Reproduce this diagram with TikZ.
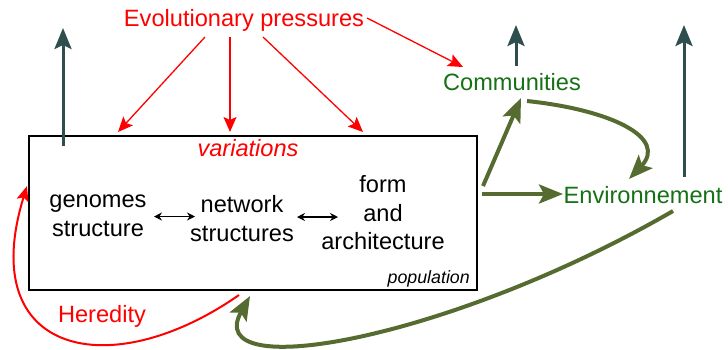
\documentclass[tikz,border=0pt]{standalone}
\usepackage{fontspec}
\setmainfont{Liberation Sans}
\usetikzlibrary{arrows.meta}
\definecolor{evored}{RGB}{255,0,0}
\definecolor{ecogreen}{RGB}{22,112,22}
\definecolor{olivearrow}{RGB}{85,107,47}
\definecolor{slatearrow}{RGB}{47,79,79}
\tikzset{
  lbl/.style={inner sep=0pt, font=\fontsize{23.6}{28.5}\selectfont, align=center},
  pressure/.style={draw=evored, line width=1.3pt, -{Stealth[length=15pt,width=13pt,inset=3pt]}},
  trend/.style={draw=slatearrow, line width=3pt, -{Stealth[length=21pt,width=17pt,inset=4pt]}},
  feedback/.style={draw=olivearrow, line width=4pt, -{Stealth[length=24pt,width=19pt,inset=5pt]}},
  link/.style={draw=black, line width=1.5pt, {Stealth[length=8pt,width=8pt]}-{Stealth[length=8pt,width=8pt]}},
}
\begin{document}
\begin{tikzpicture}[x=1pt,y=-1pt]
\useasboundingbox (0,0) rectangle (728,349);

% population box
\node[draw, line width=2pt, minimum width=448pt, minimum height=154pt, inner sep=0pt] (pop) at (253,213) {};

% labels
\node[lbl, text=evored] (evo) at (244,20) {Evolutionary pressures};
\node[lbl, text=evored, font=\fontsize{23.6}{28.5}\selectfont\itshape] (var) at (248,148.5) {variations};
\node[lbl] (gen) at (98,216) {genomes\\structure};
\node[lbl] (net) at (242,218.5) {network\\structures};
\node[lbl] (form) at (383,213) {form\\and\\architecture};
\node[inner sep=0pt, anchor=base east, font=\fontsize{17.8}{20}\selectfont\itshape] (popl) at (470,283) {population};
\node[lbl, text=ecogreen] (com) at (512,82.5) {Communities};
\node[lbl, text=ecogreen] (env) at (643,195) {Environnement};
\node[lbl, text=evored] (her) at (102,316) {Heredity};

% connector end points
\coordinate (pA) at (118,132);
\coordinate (pB) at (230,132);
\coordinate (pC) at (363,132);
\coordinate (eA) at (205,37);
\coordinate (eB) at (230,37);
\coordinate (eC) at (263,37);
\coordinate (eD) at (367,18);
\coordinate (cIn) at (463,67);
\coordinate (popUp) at (63,146);
\coordinate (popTop) at (63,28);
\coordinate (comUp) at (516,66);
\coordinate (comTop) at (516,25);
\coordinate (envUp) at (684,177);
\coordinate (envTop) at (684,25);
\coordinate (popR1) at (483,186);
\coordinate (comIn) at (521,98);
\coordinate (popR2) at (482,194);
\coordinate (envIn) at (563,194);
\coordinate (comOut) at (527,101);
\coordinate (envTopIn) at (629,179);
\coordinate (envOut) at (673,211);
\coordinate (popBotIn) at (250,296);
\coordinate (popBotOut) at (239,295);
\coordinate (popLeftIn) at (27,186);

% evolutionary pressures
\draw[pressure] (eA) -- (pA);
\draw[pressure] (eB) -- (pB);
\draw[pressure] (eC) -- (pC);
\draw[pressure] (eD) -- (cIn);

% upward trends
\draw[trend] (popUp) -- (popTop);
\draw[trend] (comUp) -- (comTop);
\draw[trend] (envUp) -- (envTop);

% interactions inside the population
\draw[link] (154,216.5) -- (195,216.5);
\draw[link] (297,217) -- (338,217);

% ecological feedbacks
\draw[feedback] (popR1) -- (comIn);
\draw[feedback] (popR2) -- (envIn);
\draw[feedback] (comOut) .. controls (612,110) and (668,138) .. (envTopIn);
\draw[feedback] (envOut) .. controls (450,340) and (200,385) .. (popBotIn);

% heredity
\draw[draw=evored, line width=2pt, -{Stealth[length=15pt,width=12pt,inset=3pt]}]
  (popBotOut) .. controls (110,385) and (-25,355) .. (popLeftIn);
\end{tikzpicture}
\end{document}
